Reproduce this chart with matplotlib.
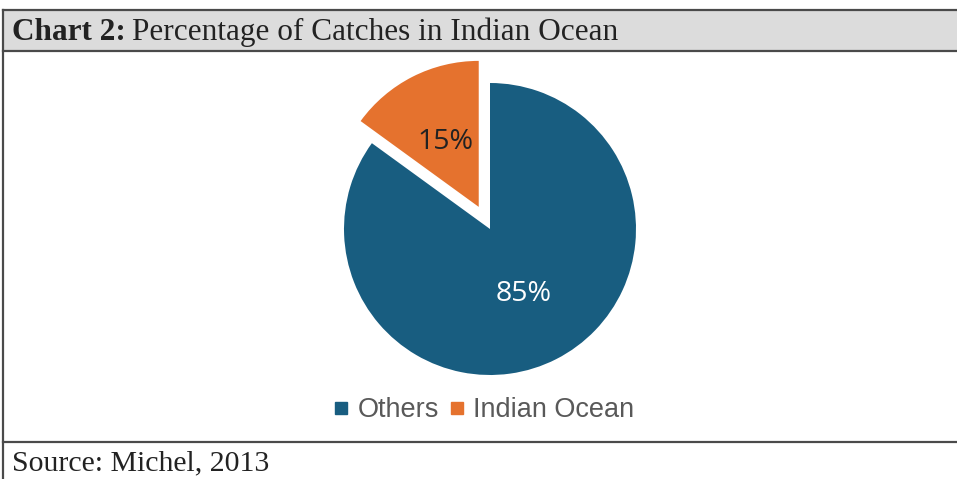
import matplotlib.pyplot as plt
from matplotlib.lines import Line2D

# Share of catches
labels = ["Others", "Indian Ocean"]
shares = [85, 15]
colors = ["#185d80", "#e5722e"]
explode = [0, 0.17]

title_bold = "Chart 2:"
title_text = "Percentage of Catches in Indian Ocean"
source_text = "Source: Michel, 2013"

W, H = 957, 479
fig = plt.figure(figsize=(W / 100, H / 100), dpi=100)


def fx(px):
    return px / W


def fy(py):
    return 1 - py / H


# title bar and box borders
fig.patches.append(plt.Rectangle((fx(3), fy(51)), fx(954), fy(10) - fy(51),
                                 transform=fig.transFigure, facecolor="#dcdcdc",
                                 edgecolor="none", zorder=0))
line_kw = dict(transform=fig.transFigure, color="#4a4a4a", lw=1.6)
fig.lines.append(Line2D([fx(3), 1], [fy(10), fy(10)], **line_kw))
fig.lines.append(Line2D([fx(3), 1], [fy(51), fy(51)], **line_kw))
fig.lines.append(Line2D([fx(3), 1], [fy(442), fy(442)], **line_kw))
fig.lines.append(Line2D([fx(3), fx(3)], [fy(10), 0], **line_kw))

serif = ["Liberation Serif", "DejaVu Serif"]
t = fig.text(fx(12), fy(32), title_bold, family=serif, fontsize=22.5,
             fontweight="bold", color="#222222", va="center")
fig.canvas.draw()
bb = t.get_window_extent()
fig.text(bb.x1 / W + fx(6), fy(32), title_text, family=serif, fontsize=22.5,
         color="#222222", va="center")
fig.text(fx(12), fy(463), source_text, family=serif, fontsize=21.5,
         color="#222222", va="center")

# pie, radius 146 px around (490, 229)
half = 219
ax = fig.add_axes([fx(490 - half), fy(229 + half), fx(2 * half), half * 2 / H])
wedges, texts, autotexts = ax.pie(
    shares, colors=colors, explode=explode, startangle=90, counterclock=False,
    autopct="%d%%", pctdistance=0.5,
    textprops=dict(family=["Open Sans", "DejaVu Sans"], fontsize=20.5))
autotexts[0].set_color("white")
autotexts[1].set_color("#222222")
ax.set_xlim(-1.5, 1.5)
ax.set_ylim(-1.5, 1.5)
ax.set_aspect("equal")
ax.axis("off")

handles = [Line2D([], [], marker="s", ls="none", color=c, markersize=8)
           for c in colors]
fig.legend(handles, labels, loc="center", bbox_to_anchor=(fx(483), fy(410)),
           ncol=2, frameon=False, handlelength=0.7, handletextpad=0.25,
           columnspacing=0.3,
           prop=dict(family=["Liberation Sans", "DejaVu Sans"], size=19.5),
           labelcolor="#595959")

fig.savefig("out.png", dpi=100)
